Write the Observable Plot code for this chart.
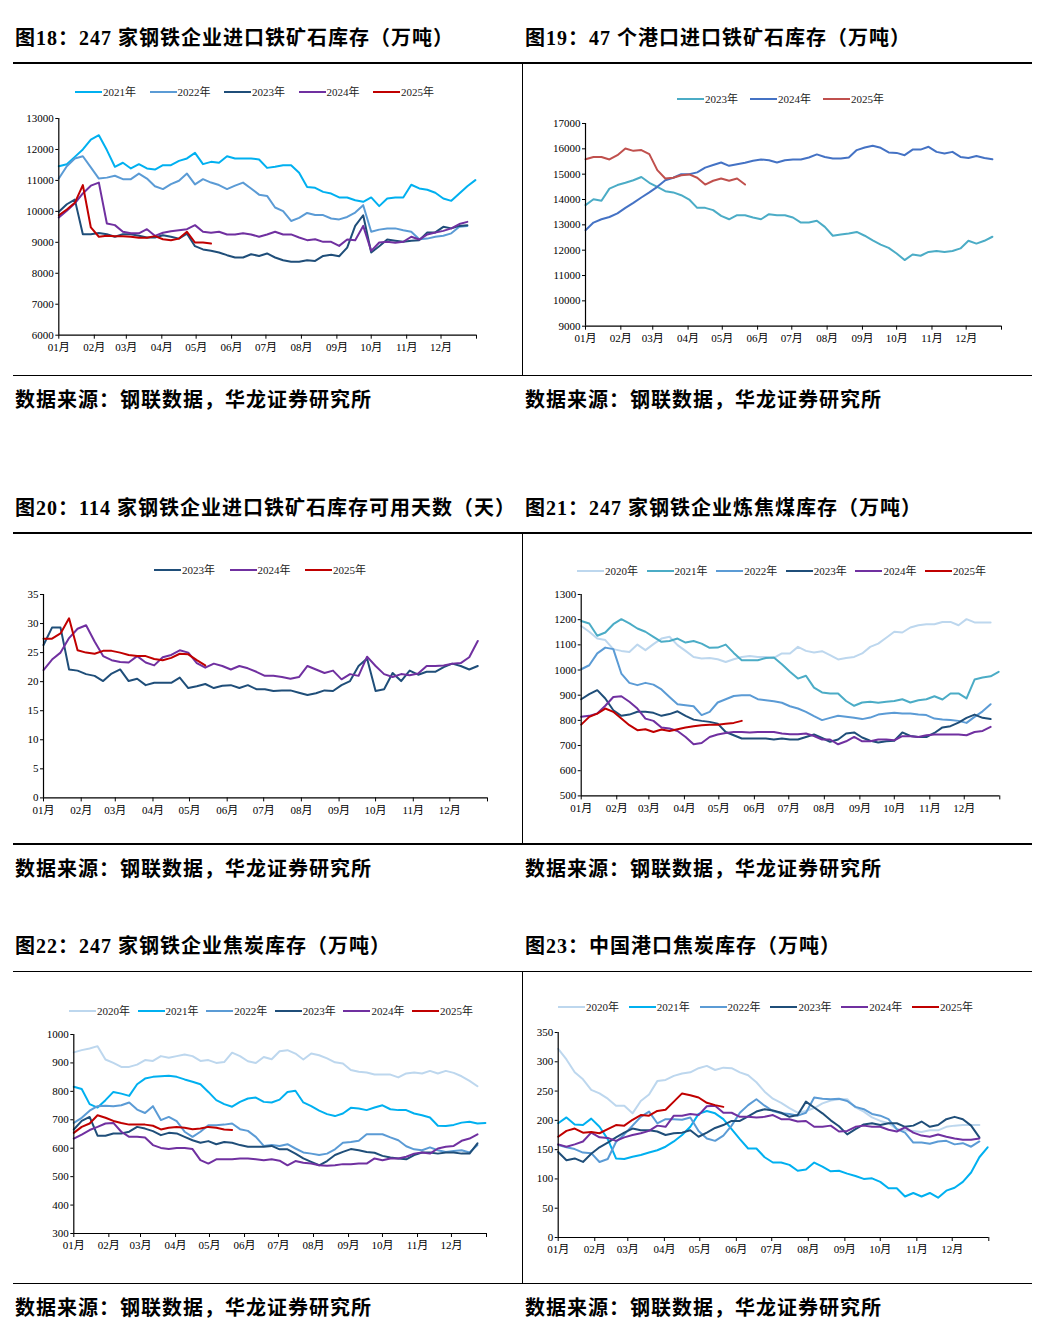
<!DOCTYPE html>
<html><head><meta charset="utf-8">
<script src="https://cdn.jsdelivr.net/npm/d3@7"></script>
<script src="https://cdn.jsdelivr.net/npm/@observablehq/plot@0.6"></script>
<style>
body{margin:0;background:#fff;width:1043px;height:1344px;position:relative;overflow:hidden;font-family:"Liberation Serif","Noto Sans CJK SC",serif;}
.title,.src{position:absolute;font-weight:bold;font-size:20px;line-height:24px;white-space:nowrap;color:#000;font-family:"Liberation Serif","Noto Sans CJK SC",serif;letter-spacing:1px;}
.hr{position:absolute;height:1.3px;background:#000;left:13px;width:1019px}
.vr{position:absolute;width:1.3px;background:#000;left:522px}
.legend{position:absolute;height:14px;font-size:11px;line-height:14px;color:#222;}
.item{position:absolute;top:0;display:flex;align-items:center;white-space:nowrap}
.sw{width:27px;height:2.5px;margin-right:1px}
.chart{position:absolute}
</style>
</head><body>
<script>
// ---------- shared axis labels ----------
const monthTicks = [0, 31, 59, 90, 120, 151, 181, 212, 243, 273, 304, 334, 365];
const monthLabels = ["01月","02月","03月","04月","05月","06月","07月","08月","09月","10月","11月","12月",""];

// ---------- 图18 ----------
const p18_years = ["2021年","2022年","2023年","2024年","2025年"];
const p18_2021 = [11460,11525,11760,12000,12320,12460,11980,11440,11570,11385,11525,11385,11350,11490,11490,11630,11710,11890,11525,11600,11570,11780,11710,11710,11710,11675,11405,11440,11490,11490,11245,10790,10760,10630,10575,10450,10450,10360,10310,10450,10170,10415,10450,10450,10860,10740,10700,10600,10415,10340,10580,10810,11010];
const p18_2022 = [11060,11460,11710,11780,11420,11060,11090,11150,11040,11040,11220,11060,10810,10720,10880,10990,11220,10870,11040,10930,10850,10720,10830,10930,10740,10540,10500,10125,10010,9690,9790,9950,9880,9880,9770,9740,9820,9960,10200,9340,9410,9450,9450,9390,9340,9100,9120,9180,9210,9290,9500,9530];
const p18_2023 = [9985,10230,10380,9260,9260,9300,9260,9180,9260,9260,9210,9155,9155,9230,9180,9120,9280,8875,8770,8725,8670,8585,8510,8510,8615,8560,8640,8510,8420,8370,8370,8420,8400,8560,8600,8550,8830,9530,9875,8670,8875,9090,9050,9015,9050,9070,9320,9320,9500,9450,9530,9555];
const p18_2024 = [9800,10020,10260,10580,10830,10930,9610,9555,9340,9290,9290,9425,9210,9310,9360,9390,9425,9555,9340,9310,9340,9255,9255,9290,9255,9180,9255,9340,9255,9255,9155,9070,9100,9015,9015,8885,9090,9070,9530,8725,8995,9015,8985,9015,9180,9090,9255,9320,9370,9450,9590,9660];
const p18_2025 = [9875,10060,10275,10850,9480,9180,9210,9200,9200,9180,9145,9145,9200,9100,9070,9120,9340,8995,8995,8960];
const p18_yTicks = [6000,7000,8000,9000,10000,11000,12000,13000];

// ---------- 图19 ----------
const p19_years = ["2023年","2024年","2025年"];
const p19_2023 = [13780,14010,13950,14430,14570,14660,14760,14890,14660,14500,14330,14280,14170,14000,13670,13670,13580,13355,13220,13380,13380,13290,13220,13420,13380,13380,13290,13090,13090,13160,12920,12570,12620,12660,12720,12570,12390,12220,12090,11870,11610,11830,11780,11930,11970,11930,11970,12070,12370,12260,12370,12530];
const p19_2024 = [12790,13090,13220,13310,13450,13670,13870,14080,14280,14500,14760,14860,15000,15000,15070,15260,15360,15460,15330,15390,15450,15530,15580,15550,15460,15550,15580,15580,15660,15780,15680,15620,15620,15660,15950,16050,16120,16040,15860,15840,15750,15970,15970,16080,15880,15820,15880,15680,15640,15720,15640,15590];
const p19_2025 = [15590,15680,15680,15580,15750,16010,15920,15950,15790,15160,14830,14860,14960,14990,14860,14590,14740,14830,14740,14830,14590];
const p19_yTicks = [9000,10000,11000,12000,13000,14000,15000,16000,17000];

// ---------- 图20 ----------
const p20_years = ["2023年","2024年","2025年"];
const p20_2023 = [26.3,29.3,29.3,22.1,21.9,21.3,21.0,20.1,21.4,22.1,20.1,20.5,19.4,19.8,19.8,19.8,20.7,18.9,19.2,19.6,18.9,19.3,19.4,18.9,19.4,18.7,18.7,18.4,18.5,18.5,18.1,17.7,18.0,18.5,18.4,19.4,20.1,22.7,24.0,18.4,18.7,21.5,20.1,21.9,21.2,21.7,21.7,22.5,23.1,22.7,22.1,22.7];
const p20_2024 = [22.0,23.8,25.0,27.5,29.1,29.7,26.9,24.4,23.7,23.4,23.3,24.4,23.3,22.8,24.2,24.6,25.4,25.0,23.2,22.4,23.1,22.7,22.1,22.7,22.3,21.7,21.0,21.0,20.8,20.5,20.8,22.7,22.1,21.5,21.9,20.4,21.3,21.0,24.3,22.7,21.3,20.8,21.3,21.1,21.4,22.7,22.7,22.8,23.1,23.2,24.2,27.0];
const p20_2025 = [27.4,27.4,28.3,30.9,25.4,25.0,24.8,25.3,25.3,25.0,24.6,24.4,24.4,23.9,23.7,24.1,24.8,24.7,23.7,22.8];
const p20_yTicks = [0,5,10,15,20,25,30,35];

// ---------- 图21 ----------
const p21_years = ["2020年","2021年","2022年","2023年","2024年","2025年"];
const p21_2020 = [1175,1152,1125,1119,1083,1076,1072,1101,1079,1103,1125,1132,1099,1076,1052,1046,1048,1043,1032,1043,1052,1056,1052,1052,1048,1066,1066,1092,1076,1070,1075,1059,1042,1048,1052,1066,1092,1105,1128,1152,1149,1169,1178,1182,1182,1191,1191,1178,1202,1189,1189,1189];
const p21_2021 = [1195,1185,1136,1149,1182,1202,1185,1165,1152,1132,1112,1115,1125,1109,1115,1105,1088,1089,1101,1068,1039,1039,1039,1048,1050,1023,993,966,977,930,911,907,907,877,858,871,874,870,874,877,884,871,880,884,896,883,907,907,887,962,970,975,993];
const p21_2022 = [1003,1019,1066,1089,1083,986,949,940,949,942,923,893,864,860,856,821,834,871,884,897,900,900,884,880,876,870,856,847,834,817,801,810,818,814,810,805,811,823,827,830,827,827,823,821,807,803,801,798,790,814,836,864];
const p21_2023 = [884,904,920,887,840,818,823,834,834,830,818,825,836,818,803,798,794,787,754,741,728,728,728,728,724,728,724,724,734,744,730,715,724,748,752,732,719,712,717,719,752,738,734,734,750,772,777,791,810,823,810,805];
const p21_2024 = [814,818,827,858,893,896,874,847,807,798,772,768,758,734,705,710,734,744,750,754,754,752,754,754,754,748,745,745,748,738,724,724,705,717,734,717,717,724,724,721,737,737,734,741,744,744,744,744,741,754,758,774];
const p21_2025 = [783,814,827,847,834,807,781,761,765,754,764,758,765,772,777,781,783,783,787,790,798];
const p21_yTicks = [500,600,700,800,900,1000,1100,1200,1300];

// ---------- 图22 ----------
const p22_years = ["2020年","2021年","2022年","2023年","2024年","2025年"];
const p22_2020 = [937,945,951,959,912,900,886,886,894,910,907,924,918,924,930,924,907,910,900,903,936,924,906,900,921,913,941,945,933,912,933,927,916,902,898,875,869,866,859,859,859,849,863,866,863,872,863,872,865,853,837,818];
const p22_2021 = [816,808,755,743,769,798,792,784,825,845,851,853,855,851,842,834,825,798,769,755,746,763,775,778,763,761,771,798,802,761,748,732,720,713,722,742,740,734,743,751,737,734,734,722,716,708,679,678,682,690,693,687,689];
const p22_2022 = [689,707,732,748,749,748,751,761,736,724,748,699,710,695,658,640,658,681,681,683,687,667,661,640,608,611,608,614,599,585,581,576,581,596,619,622,626,649,649,649,638,628,607,596,593,603,593,587,590,593,585,611];
const p22_2023 = [666,696,710,644,644,652,652,658,675,669,660,646,654,652,640,628,619,625,614,622,619,611,605,605,605,608,596,596,581,564,552,540,555,576,587,597,593,587,584,573,567,564,561,576,585,585,581,585,585,581,581,617];
const p22_2024 = [634,648,664,675,687,689,658,640,640,638,611,601,597,601,601,597,558,546,561,561,561,564,564,561,558,561,556,540,555,549,546,540,538,540,544,544,546,546,564,558,564,564,570,581,585,581,599,605,608,626,634,649];
const p22_2025 = [654,675,687,716,707,696,689,683,683,683,679,666,672,675,672,667,669,675,672,666,664];
const p22_yTicks = [300,400,500,600,700,800,900,1000];

// ---------- 图23 ----------
const p23_years = ["2020年","2021年","2022年","2023年","2024年","2025年"];
const p23_2020 = [322,304,282,270,252,246,237,225,225,212,233,244,267,269,276,280,282,289,293,286,290,289,282,277,265,249,237,230,221,213,216,221,229,234,236,236,222,215,205,199,195,185,183,182,180,183,183,189,191,192,192,192];
const p23_2021 = [195,205,193,192,203,189,168,135,134,138,141,145,149,155,164,175,189,211,216,212,202,185,168,152,152,137,128,128,124,114,116,128,121,113,114,109,105,100,101,95,84,84,70,76,70,76,68,80,85,95,111,137,154];
const p23_2022 = [158,154,151,145,144,129,134,163,176,191,206,215,195,202,202,201,205,182,169,165,174,191,213,226,236,225,216,212,211,208,213,239,237,236,237,233,223,219,211,208,202,185,179,162,162,160,164,165,159,161,155,164];
const p23_2023 = [146,132,135,129,143,154,162,171,179,186,183,183,181,175,178,179,183,172,179,187,192,199,199,207,215,219,217,213,206,209,232,222,212,200,190,176,185,193,195,192,195,195,189,191,198,189,192,202,206,202,191,171];
const p23_2024 = [159,155,159,164,179,171,170,165,171,175,178,182,191,189,208,208,211,209,224,225,213,213,206,206,205,206,209,202,202,198,199,189,189,191,181,182,189,191,189,189,184,181,188,179,174,172,176,172,169,167,167,169];
const p23_2025 = [172,182,186,179,180,178,185,192,191,201,209,208,216,218,232,246,243,239,230,226,223];
const p23_yTicks = [0,50,100,150,200,250,300,350];

// ---------- text ----------
const titles = [
  "图18：247 家钢铁企业进口铁矿石库存（万吨）",
  "图19：47 个港口进口铁矿石库存（万吨）",
  "图20：114 家钢铁企业进口铁矿石库存可用天数（天）",
  "图21：247 家钢铁企业炼焦煤库存（万吨）",
  "图22：247 家钢铁企业焦炭库存（万吨）",
  "图23：中国港口焦炭库存（万吨）"
];
const sourceText = "数据来源：钢联数据，华龙证券研究所";

// ---------- layout & style (not data) ----------
const C = {y20:"#bdd7ee", y21:"#00b0f0", y21t:"#4bacc6", y22:"#5b9bd5", y23:"#1f4e79", y24:"#7030a0", y25:"#c00000"};
const panels = [
  {svgLeft:13, x0:58.3, x1:476, yT:118.3, yB:335, yTicks:p18_yTicks, years:p18_years,
   series:[p18_2021,p18_2022,p18_2023,p18_2024,p18_2025], colors:[C.y21,C.y22,C.y23,C.y24,C.y25],
   leg:{x:75, y:92, dx:74.5}},
  {svgLeft:523, x0:585, x1:1001, yT:123.3, yB:326, yTicks:p19_yTicks, years:p19_years,
   series:[p19_2023,p19_2024,p19_2025], colors:["#4bacc6","#4472c4","#c0504d"],
   leg:{x:677, y:99, dx:73}},
  {svgLeft:13, x0:43, x1:487, yT:594.3, yB:797.7, yTicks:p20_yTicks, years:p20_years,
   series:[p20_2023,p20_2024,p20_2025], colors:[C.y23,C.y24,C.y25],
   leg:{x:154, y:570, dx:75.5}},
  {svgLeft:523, x0:580.7, x1:999.3, yT:594.3, yB:795.7, yTicks:p21_yTicks, years:p21_years,
   series:[p21_2020,p21_2021,p21_2022,p21_2023,p21_2024,p21_2025], colors:[C.y20,C.y21t,C.y22,C.y23,C.y24,C.y25],
   leg:{x:577, y:571, dx:69.6}},
  {svgLeft:13, x0:73.3, x1:486, yT:1034.3, yB:1233.3, yTicks:p22_yTicks, years:p22_years,
   series:[p22_2020,p22_2021,p22_2022,p22_2023,p22_2024,p22_2025], colors:[C.y20,C.y21,C.y22,C.y23,C.y24,C.y25],
   leg:{x:69, y:1011, dx:68.6}},
  {svgLeft:523, x0:557.7, x1:988.3, yT:1031.7, yB:1236.7, yTicks:p23_yTicks, years:p23_years,
   series:[p23_2020,p23_2021,p23_2022,p23_2023,p23_2024,p23_2025], colors:[C.y20,C.y21,C.y22,C.y23,C.y24,C.y25],
   leg:{x:558, y:1007, dx:70.8}}
];
const titlePos = [[15,26],[525,26],[15,496],[525,496],[15,934],[525,934]];
const srcPos = [[15,388],[525,388],[15,857],[525,857],[15,1296],[525,1296]];
const hrY = [62.3, 375, 532.3, 843.3, 970.5, 1283];
const vr = [[62.3,375],[532.3,843.3],[970.5,1283]];

function el(tag, cls, css, text){
  const e = document.createElement(tag);
  if (cls) e.className = cls;
  Object.assign(e.style, css || {});
  if (text != null) e.textContent = text;
  document.body.appendChild(e);
  return e;
}

titles.forEach((t,i)=> el("div","title",{left:titlePos[i][0]+"px", top:titlePos[i][1]+"px"}, t));
srcPos.forEach(p=> el("div","src",{left:p[0]+"px", top:p[1]+"px"}, sourceText));
hrY.forEach(y=> el("div","hr",{top:y+"px"}));
vr.forEach(([a,b])=> el("div","vr",{top:a+"px", height:(b-a)+"px"}));

panels.forEach(p=>{
  const W = 509, mT = 12, mB = 30;
  const height = (p.yB - p.yT) + mT + mB;
  const ymin = p.yTicks[0], ymax = p.yTicks[p.yTicks.length-1];
  const lines = p.series.map((vals, k) => Plot.line(vals.map((v,i)=>({d:i*7, v})), {
    x:"d", y:"v", stroke:p.colors[k], strokeWidth:2, strokeLinejoin:"round", strokeLinecap:"round"
  }));
  const svg = Plot.plot({
    width: W, height,
    marginLeft: p.x0 - p.svgLeft, marginRight: p.svgLeft + W - p.x1,
    marginTop: mT, marginBottom: mB,
    style:{fontFamily:"'Liberation Serif','Noto Sans CJK SC',serif", fontSize:"11px", color:"#000", background:"transparent", overflow:"visible"},
    x:{domain:[0,365]},
    y:{domain:[ymin,ymax]},
    marks:[
      Plot.axisY({ticks:p.yTicks, tickSize:3, tickPadding:2, tickFormat:d=>String(d), label:null}),
      Plot.axisX({ticks:monthTicks, tickSize:4, tickPadding:4, tickFormat:d=>monthLabels[monthTicks.indexOf(d)], label:null}),
      ...lines,
      Plot.ruleX([0], {stroke:"#000", strokeWidth:1.2}),
      Plot.ruleY([ymin], {stroke:"#000", strokeWidth:1.2})
    ]
  });
  svg.classList.add("chart");
  svg.style.left = p.svgLeft + "px";
  svg.style.top = (p.yT - mT) + "px";
  svg.style.position = "absolute";
  document.body.appendChild(svg);

  const lg = el("div","legend",{left:p.leg.x+"px", top:(p.leg.y-7)+"px"});
  p.years.forEach((y,k)=>{
    const it = document.createElement("div");
    it.className = "item";
    it.style.left = (k*p.leg.dx) + "px";
    const sw = document.createElement("span");
    sw.className = "sw"; sw.style.background = p.colors[k];
    const tx = document.createElement("span"); tx.textContent = y;
    it.appendChild(sw); it.appendChild(tx);
    lg.appendChild(it);
  });
});
</script>
</body></html>
